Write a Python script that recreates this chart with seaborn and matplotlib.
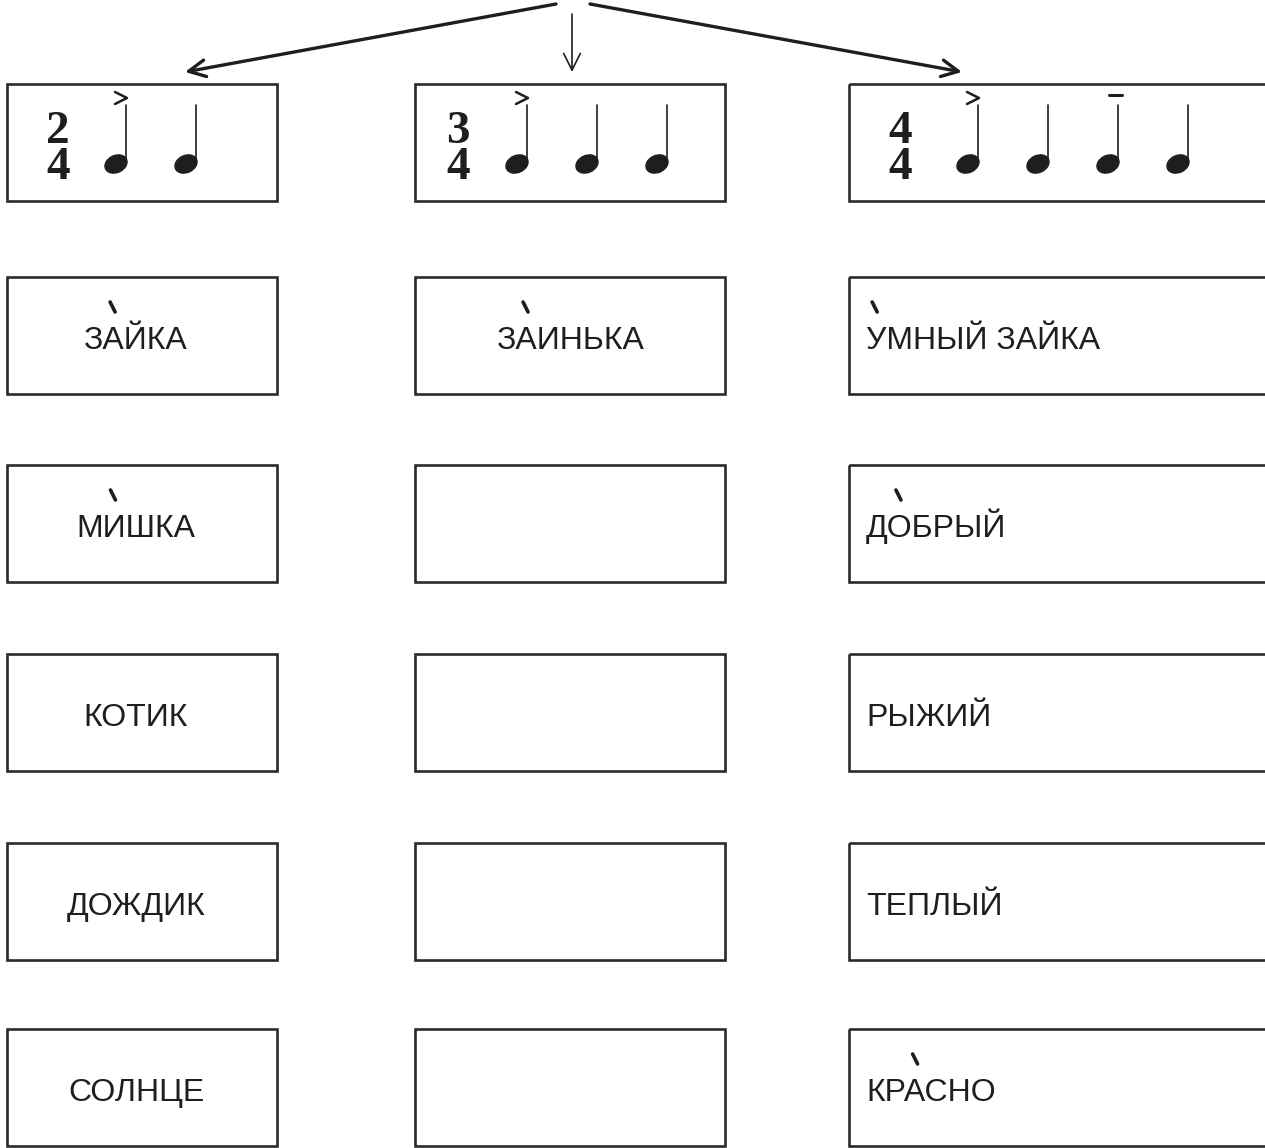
import matplotlib.pyplot as plt
import seaborn as sns
from matplotlib.patches import Rectangle, Ellipse

# Стиль: белый фон, без сетки
sns.set_theme(style="white")
plt.rcParams['font.family'] = ['Liberation Sans', 'DejaVu Sans']

# ==========================================
# ДАННЫЕ
# ==========================================
numerators = [2, 3, 4]
denominator = 4
# знаки над долями: '>' акцент, '–' тенуто
beat_marks = [['>', ''], ['>', '', ''], ['>', '', '–', '']]

words_col1 = ["ЗАЙКА", "МИШКА", "КОТИК", "ДОЖДИК", "СОЛНЦЕ"]
stress_col1 = [1, 1, None, None, None]
words_col2 = ["ЗАИНЬКА", "", "", "", ""]
stress_col2 = [1, None, None, None, None]
words_col3 = ["УМНЫЙ ЗАЙКА", "ДОБРЫЙ", "РЫЖИЙ", "ТЕПЛЫЙ", "КРАСНО"]
stress_col3 = [0, 1, None, None, 2]

# ==========================================
# РАЗМЕТКА (пиксели)
# ==========================================
W, H = 1265, 1148
col_left = [7, 415, 849]
col_right = [277, 725, 1300]
row_top = [84, 277, 465, 654, 843, 1029]
box_h = 117
sig_x = [58, 458, 900]
first_note = [116, 517, 968]
note_step = 70
ink = '#1e1e1e'

fig = plt.figure(figsize=(W / 100, H / 100), dpi=100)
ax = fig.add_axes([0, 0, 1, 1])
ax.set_xlim(0, W)
ax.set_ylim(H, 0)
ax.axis('off')
renderer = fig.canvas.get_renderer()


def text_w(s, **kw):
    t = ax.text(0, 0, s, **kw)
    w = t.get_window_extent(renderer).width
    t.remove()
    return w


# Стрелки сверху
arrow_kw = dict(arrowstyle='->', color=ink, shrinkA=0, shrinkB=0, mutation_scale=30)
ax.annotate('', xy=(185, 72), xytext=(556, 4), arrowprops=dict(lw=2.4, **arrow_kw))
ax.annotate('', xy=(572, 72), xytext=(572, 14), arrowprops=dict(lw=1.2, **arrow_kw))
ax.annotate('', xy=(962, 72), xytext=(590, 4), arrowprops=dict(lw=2.4, **arrow_kw))

# Рамки
for c in range(3):
    for r in range(len(row_top)):
        ax.add_patch(Rectangle((col_left[c], row_top[r]), col_right[c] - col_left[c], box_h,
                               fill=False, edgecolor='#2a2a2a', lw=1.9))

# Размер и ноты
for c in range(3):
    ax.text(sig_x[c], 150, f"{numerators[c]}\n{denominator}", ha='center', va='center',
            fontsize=34, fontweight='bold', family='Liberation Serif', color=ink,
            linespacing=0.82)
    for i, mark in enumerate(beat_marks[c]):
        hx = first_note[c] + i * note_step
        sx = hx + 10
        ax.add_patch(Ellipse((hx, 164), 23, 17, angle=-25, color=ink))
        ax.plot([sx, sx], [162, 105], color=ink, lw=1.2)
        if mark == '>':
            ax.plot([sx - 11, sx + 1, sx - 11], [92, 98, 104], color=ink, lw=1.8)
        elif mark == '–':
            ax.plot([sx - 9, sx + 4], [95, 95], color=ink, lw=2.2)

# Слова с ударениями
fs = 23
columns = [(words_col1, stress_col1, 'center', 136),
           (words_col2, stress_col2, 'center', 571),
           (words_col3, stress_col3, 'left', 866)]
for words, stress, align, x0 in columns:
    for r, (word, s) in enumerate(zip(words, stress)):
        if not word:
            continue
        base = row_top[r + 1] + 72
        w = text_w(word, fontsize=fs)
        left = x0 - w / 2 if align == 'center' else x0
        ax.text(left, base, word, ha='left', va='baseline', fontsize=fs, color=ink)
        if s is not None:
            pre = text_w(word[:s], fontsize=fs) if s > 0 else 0
            cw = text_w(word[s], fontsize=fs)
            cx = left + pre + cw * 0.45
            ax.plot([cx - 3, cx + 2], [base - 47, base - 37], color=ink, lw=2.6,
                    solid_capstyle='round')

fig.savefig('out.png', dpi=100, facecolor='white')
